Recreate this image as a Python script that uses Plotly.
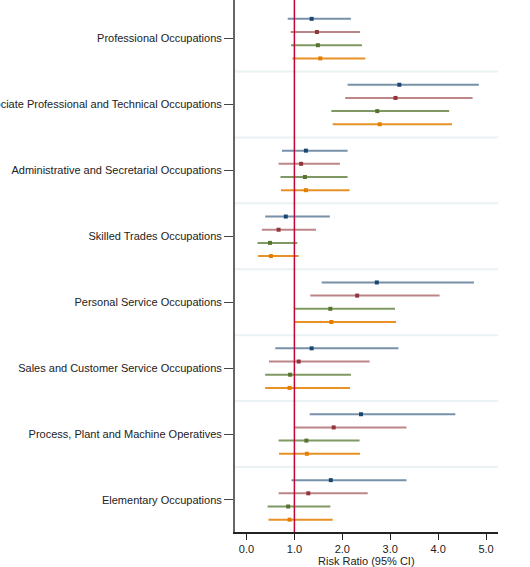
import plotly.graph_objects as go

categories = [
    "Professional Occupations",
    "Associate Professional and Technical Occupations",
    "Administrative and Secretarial Occupations",
    "Skilled Trades Occupations",
    "Personal Service Occupations",
    "Sales and Customer Service Occupations",
    "Process, Plant and Machine Operatives",
    "Elementary Occupations",
]

series_names = ["Series 1", "Series 2", "Series 3", "Series 4"]

s1_rr = [1.36, 3.19, 1.24, 0.82, 2.72, 1.36, 2.39, 1.76]
s1_lo = [0.86, 2.11, 0.74, 0.39, 1.57, 0.60, 1.32, 0.94]
s1_hi = [2.18, 4.85, 2.11, 1.74, 4.75, 3.17, 4.36, 3.34]

s2_rr = [1.47, 3.11, 1.14, 0.67, 2.31, 1.09, 1.82, 1.29]
s2_lo = [0.92, 2.06, 0.67, 0.32, 1.33, 0.47, 1.00, 0.67]
s2_hi = [2.37, 4.72, 1.95, 1.45, 4.03, 2.57, 3.34, 2.53]

s3_rr = [1.49, 2.73, 1.22, 0.49, 1.75, 0.91, 1.25, 0.87]
s3_lo = [0.93, 1.77, 0.71, 0.23, 1.00, 0.39, 0.67, 0.44]
s3_hi = [2.41, 4.23, 2.11, 1.06, 3.10, 2.18, 2.36, 1.75]

s4_rr = [1.54, 2.78, 1.24, 0.51, 1.77, 0.90, 1.26, 0.90]
s4_lo = [0.96, 1.80, 0.72, 0.24, 1.00, 0.39, 0.68, 0.46]
s4_hi = [2.48, 4.29, 2.15, 1.09, 3.12, 2.16, 2.37, 1.80]

x_ticks = [0, 1, 2, 3, 4, 5]
x_ticklabels = ["0.0", "1.0", "2.0", "3.0", "4.0", "5.0"]
x_title = "Risk Ratio (95% CI)"
null_value = 1.0

series = [
    (s1_rr, s1_lo, s1_hi, "#1a476f", "rgba(26,71,111,0.6)"),
    (s2_rr, s2_lo, s2_hi, "#90353b", "rgba(144,53,59,0.6)"),
    (s3_rr, s3_lo, s3_hi, "#55752f", "rgba(85,117,47,0.75)"),
    (s4_rr, s4_lo, s4_hi, "#e37e00", "rgba(227,126,0,0.85)"),
]
offsets = [0.3, 0.1, -0.1, -0.3]

n = len(categories)
centers = [n - i for i in range(n)]  # top category highest

fig = go.Figure()

for (rr, lo, hi, mcol, lcol), off, name in zip(series, offsets, series_names):
    ys = [c + off for c in centers]
    fig.add_trace(go.Scatter(
        x=rr, y=ys, mode="markers", name=name,
        marker=dict(symbol="square", size=4, color=mcol),
        error_x=dict(type="data", symmetric=False,
                     array=[h - r for h, r in zip(hi, rr)],
                     arrayminus=[r - l for r, l in zip(rr, lo)],
                     width=0, thickness=2, color=lcol),
        showlegend=False,
    ))

shapes = []
for c in centers[:-1]:
    shapes.append(dict(type="line", xref="paper", yref="y", x0=0, x1=1,
                       y0=c - 0.5, y1=c - 0.5,
                       line=dict(color="#eaf2f3", width=2), layer="below"))
shapes.append(dict(type="line", xref="x", yref="paper", x0=null_value, x1=null_value,
                   y0=0, y1=1, line=dict(color="#c10534", width=1.5)))

fig.update_layout(
    width=530, height=567,
    margin=dict(l=235, r=32, t=0, b=35),
    paper_bgcolor="white", plot_bgcolor="white",
    font=dict(family="Liberation Sans, Arial, sans-serif", size=11, color="#222"),
    shapes=shapes,
    annotations=[dict(text=x_title, xref="x", yref="paper", x=2.5, y=0,
                      yanchor="top", yshift=-21, showarrow=False,
                      font=dict(size=11, color="#222"))],
    xaxis=dict(range=[-0.24, 5.25], tickvals=x_ticks, ticktext=x_ticklabels,
               ticks="outside", ticklen=6, tickcolor="#222",
               showline=True, linecolor="#222", linewidth=1.5,
               showgrid=False, zeroline=False, automargin=False),
    yaxis=dict(range=[0.513, 8.586], tickvals=centers, ticktext=categories,
               ticks="outside", ticklen=9, tickcolor="#444",
               showline=True, linecolor="#666", linewidth=2,
               showgrid=False, zeroline=False, automargin=False),
)

fig.write_html("out.html", config={"displayModeBar": False},
               post_script="document.body.style.margin='0';document.body.style.overflow='hidden';")
